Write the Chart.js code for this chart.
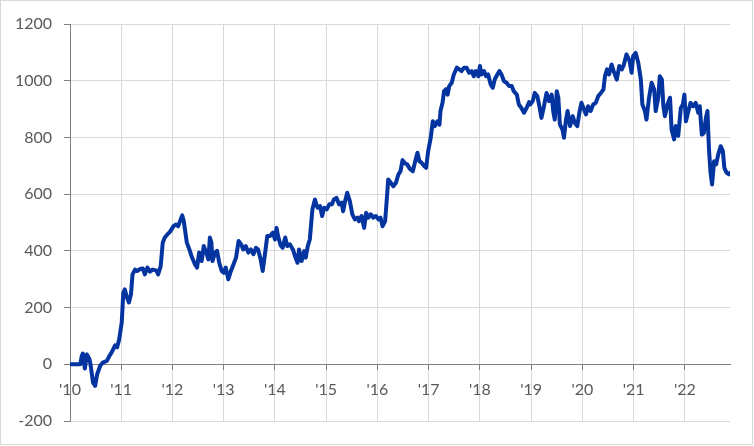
<!DOCTYPE html>
<html>
<head>
<meta charset="utf-8">
<script src="https://cdn.jsdelivr.net/npm/chart.js@4.4.1/dist/chart.umd.min.js"></script>
<style>
  html, body { margin: 0; padding: 0; background: #fff; }
  .stage { position: relative; width: 754px; height: 446px; }
  .frame { position: absolute; left: 0; top: 0; width: 753px; height: 445px; box-sizing: border-box; border: 1px solid #d9d9d9; pointer-events: none; }
  canvas { display: block; }
</style>
</head>
<body>
<div class="stage">
  <canvas id="chart" width="754" height="446"></canvas>
  <div class="frame"></div>
</div>
<script>
// time as decimal years
const years = [
  2010.00, 2010.10, 2010.20, 2010.23, 2010.25, 2010.29, 2010.33, 2010.38, 2010.40, 2010.45,
  2010.49, 2010.53, 2010.59, 2010.64, 2010.72, 2010.77, 2010.81, 2010.88, 2010.92, 2010.96,
  2011.01, 2011.04, 2011.07, 2011.11, 2011.15, 2011.19, 2011.22, 2011.27, 2011.31, 2011.37,
  2011.42, 2011.46, 2011.51, 2011.56, 2011.61, 2011.68, 2011.72, 2011.77, 2011.81, 2011.85,
  2011.90, 2011.95, 2012.02, 2012.07, 2012.11, 2012.16, 2012.19, 2012.22, 2012.28, 2012.33,
  2012.37, 2012.44, 2012.48, 2012.52, 2012.57, 2012.61, 2012.67, 2012.70, 2012.73, 2012.76,
  2012.78, 2012.83, 2012.87, 2012.91, 2012.96, 2013.00, 2013.04, 2013.09, 2013.14, 2013.19,
  2013.24, 2013.29, 2013.34, 2013.38, 2013.43, 2013.48, 2013.53, 2013.58, 2013.63, 2013.67,
  2013.72, 2013.76, 2013.80, 2013.85, 2013.90, 2013.96, 2014.00, 2014.03, 2014.06, 2014.11,
  2014.15, 2014.20, 2014.24, 2014.29, 2014.35, 2014.39, 2014.44, 2014.47, 2014.52, 2014.57,
  2014.60, 2014.64, 2014.68, 2014.73, 2014.78, 2014.83, 2014.88, 2014.92, 2014.96, 2015.01,
  2015.06, 2015.11, 2015.15, 2015.20, 2015.25, 2015.30, 2015.33, 2015.37, 2015.41, 2015.46,
  2015.51, 2015.56, 2015.61, 2015.64, 2015.69, 2015.74, 2015.78, 2015.82, 2015.87, 2015.92,
  2015.97, 2016.02, 2016.06, 2016.10, 2016.15, 2016.18, 2016.21, 2016.26, 2016.31, 2016.36,
  2016.41, 2016.45, 2016.49, 2016.54, 2016.58, 2016.63, 2016.69, 2016.73, 2016.78, 2016.82,
  2016.86, 2016.91, 2016.95, 2016.99, 2017.04, 2017.08, 2017.12, 2017.17, 2017.21, 2017.23,
  2017.27, 2017.30, 2017.34, 2017.37, 2017.40, 2017.45, 2017.49, 2017.55, 2017.60, 2017.64,
  2017.69, 2017.74, 2017.79, 2017.84, 2017.88, 2017.92, 2017.97, 2018.00, 2018.03, 2018.08,
  2018.12, 2018.16, 2018.21, 2018.25, 2018.29, 2018.34, 2018.38, 2018.42, 2018.47, 2018.52,
  2018.57, 2018.62, 2018.66, 2018.72, 2018.76, 2018.81, 2018.86, 2018.91, 2018.96, 2018.98,
  2019.03, 2019.07, 2019.12, 2019.16, 2019.20, 2019.25, 2019.30, 2019.35, 2019.40, 2019.43,
  2019.46, 2019.50, 2019.53, 2019.56, 2019.61, 2019.64, 2019.68, 2019.71, 2019.76, 2019.81,
  2019.85, 2019.90, 2019.94, 2019.98, 2020.03, 2020.07, 2020.11, 2020.16, 2020.21, 2020.26,
  2020.31, 2020.36, 2020.41, 2020.44, 2020.48, 2020.52, 2020.57, 2020.61, 2020.67, 2020.72,
  2020.77, 2020.81, 2020.86, 2020.92, 2020.96, 2020.99, 2021.04, 2021.09, 2021.14, 2021.17,
  2021.22, 2021.25, 2021.30, 2021.35, 2021.40, 2021.43, 2021.48, 2021.51, 2021.55, 2021.58,
  2021.61, 2021.66, 2021.71, 2021.74, 2021.79, 2021.82, 2021.87, 2021.92, 2021.96, 2021.99,
  2022.02, 2022.06, 2022.11, 2022.16, 2022.21, 2022.26, 2022.29, 2022.33, 2022.37, 2022.41,
  2022.44, 2022.47, 2022.50, 2022.53, 2022.57, 2022.61, 2022.65, 2022.70, 2022.74, 2022.77,
  2022.81, 2022.86, 2022.88,
];
const values = [
  0, 0, 0, 30, 38, -15, 35, 18, 0, -65,
  -76, -35, -5, 6, 12, 30, 41, 67, 60, 88,
  148, 253, 264, 236, 218, 247, 317, 334, 329, 336,
  338, 317, 341, 327, 334, 331, 317, 346, 429, 447,
  458, 467, 487, 493, 487, 511, 525, 505, 429, 405,
  382, 352, 341, 394, 364, 417, 388, 370, 447, 429,
  364, 394, 400, 360, 329, 323, 341, 300, 329, 352,
  376, 435, 423, 405, 417, 394, 405, 388, 411, 405,
  370, 329, 382, 452, 452, 464, 440, 481, 452, 420,
  411, 447, 417, 423, 405, 382, 358, 405, 364, 399,
  376, 417, 440, 546, 581, 552, 558, 523, 552, 546,
  564, 564, 581, 587, 564, 570, 540, 576, 605, 576,
  529, 511, 517, 505, 523, 481, 534, 517, 529, 517,
  523, 511, 517, 487, 505, 576, 652, 640, 628, 640,
  670, 681, 720, 708, 705, 690, 681, 711, 746, 716,
  711, 699, 693, 752, 799, 857, 840, 857, 845, 893,
  922, 963, 970, 951, 981, 993, 1022, 1046, 1040, 1034,
  1046, 1046, 1028, 1034, 1016, 1034, 1016, 1052, 1022, 1034,
  1016, 1022, 987, 975, 1005, 1022, 1034, 1022, 998, 993,
  981, 981, 963, 951, 916, 904, 887, 904, 925, 916,
  928, 957, 946, 910, 869, 910, 957, 928, 951, 893,
  863, 963, 940, 846, 828, 799, 863, 893, 840, 875,
  852, 840, 887, 922, 899, 881, 910, 893, 916, 922,
  946, 957, 969, 1016, 1040, 1022, 1057, 1034, 1004, 1052,
  1040, 1057, 1093, 1070, 1028, 1087, 1098, 1063, 1004, 916,
  893, 863, 940, 993, 969, 893, 940, 1016, 1004, 910,
  875, 916, 940, 828, 793, 840, 806, 904, 916, 951,
  857, 887, 922, 910, 922, 887, 910, 810, 816, 869,
  893, 758, 676, 634, 716, 705, 740, 769, 752, 693,
  676, 670, 675,
];
const yearTicks = [2010, 2011, 2012, 2013, 2014, 2015, 2016, 2017, 2018, 2019, 2020, 2021, 2022];
const valueTicks = [-200, 0, 200, 400, 600, 800, 1000, 1200];

const lineBlue = '#0334a0';
const axisGrey = '#808080';
const gridGrey = '#d9d9d9';
const textGrey = '#595959';
const tickFont = { family: 'Lato', size: 16 };

new Chart(document.getElementById('chart'), {
  type: 'line',
  data: {
    datasets: [{
      data: years.map((x, i) => ({ x, y: values[i] })),
      borderColor: lineBlue,
      borderWidth: 4,
      borderJoinStyle: 'round',
      borderCapStyle: 'round',
      pointRadius: 0,
      tension: 0,
      fill: false,
    }],
  },
  options: {
    responsive: false,
    animation: false,
    events: [],
    layout: { padding: { left: 0, top: 24, right: 24, bottom: 25 } },
    plugins: { legend: { display: false }, tooltip: { enabled: false } },
    scales: {
      x: {
        type: 'linear',
        position: { y: 0 },
        min: 2010,
        max: 2022.88,
        afterBuildTicks: (scale) => { scale.ticks = yearTicks.map((value) => ({ value })); },
        afterFit: (scale) => { scale.height = 0; },
        ticks: {
          callback: (value) => "'" + String(value).slice(2),
          color: textGrey, font: tickFont, padding: 11, maxRotation: 0, autoSkip: false,
        },
        grid: { color: gridGrey, tickColor: axisGrey, tickLength: 5, lineWidth: 1 },
        border: { color: axisGrey, width: 1 },
      },
      y: {
        min: -200,
        max: 1200,
        afterBuildTicks: (scale) => { scale.ticks = valueTicks.map((value) => ({ value })); },
        afterFit: (scale) => { scale.width = 70; },
        ticks: { callback: (value) => String(value), color: textGrey, font: tickFont, padding: 12 },
        grid: {
          color: (ctx) => (ctx.tick && ctx.tick.value === 0 ? axisGrey : gridGrey),
          tickColor: axisGrey, tickLength: 6, lineWidth: 1,
        },
        border: { color: axisGrey, width: 1 },
      },
    },
  },
});
</script>
</body>
</html>
